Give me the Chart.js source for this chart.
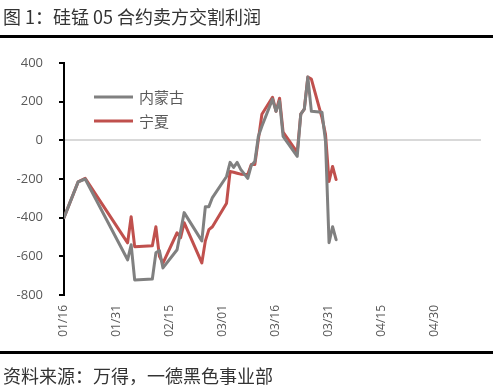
<!DOCTYPE html>
<html>
<head>
<meta charset="utf-8">
<script src="https://cdn.jsdelivr.net/npm/chart.js@4"></script>
<style>
  html, body { margin: 0; padding: 0; background: #fff; }
  #wrap { position: relative; width: 500px; height: 389px; overflow: hidden; }
  #chart { position: absolute; left: 0; top: 0; }
  .txt { position: absolute; left: 3px; font-family: "Noto Sans CJK SC", sans-serif; font-size: 18px; color: #333; white-space: nowrap; line-height: 1; }
  .rule { position: absolute; left: 0; width: 493px; height: 3px; background: #000; }
</style>
</head>
<body>
<div id="wrap">
  <canvas id="chart" width="500" height="389"></canvas>
  <div class="txt" style="top:7px;">图 1：硅锰 05 合约卖方交割利润</div>
  <div class="rule" style="top:35px;"></div>
  <div class="rule" style="top:351px;"></div>
  <div class="txt" style="top:366px;">资料来源：万得，一德黑色事业部</div>
</div>
<script>
// 日期 (2020)
const dates = ['01/16', '01/20', '01/22', '02/03', '02/04', '02/05', '02/10', '02/11', '02/12', '02/13',
    '02/17', '02/18', '02/19', '02/24', '02/25', '02/26', '02/27', '03/02', '03/03', '03/04',
    '03/05', '03/06', '03/08', '03/09', '03/10', '03/11', '03/12', '03/15', '03/16', '03/17',
    '03/18', '03/22', '03/23', '03/24', '03/25', '03/26', '03/29', '03/30', '03/31', '04/01', '04/02'];
const neimenggu = [-400, -215, -200, -618, -540, -722, -717, -582, -570, -660,
    -566, -470, -374, -520, -343, -343, -296, -187, -114, -140,
    -114, -150, -197, -130, -110, 21, 73, 213, 150, 203,
    21, -83, 135, 161, 327, 150, 145, -5, -530, -447, -514];
const ningxia = [-400, -215, -197, -530, -395, -550, -545, -447, -600, -635,
    -478, -504, -426, -634, -520, -462, -447, -325, -161, -165,
    -170, -175, -177, -125, -125, 5, 135, 223, 150, 218,
    42, -62, 135, 161, 327, 317, 117, 31, -213, -135, -203];
const xTickLabels = ['01/16', '01/31', '02/15', '03/01', '03/16', '03/31', '04/15', '04/30'];
const seriesNames = ['内蒙古', '宁夏'];

const startDay = Date.UTC(2020, 0, 16);
function toDay(s) {
    const parts = s.split('/');
    return (Date.UTC(2020, parseInt(parts[0]) - 1, parseInt(parts[1])) - startDay) / 86400000;
}
const days = dates.map(toDay);

function toPoints(values) {
    return values.map((v, i) => ({ x: days[i], y: v }));
}

// 图例画在绘图区内
const insideLegend = {
    id: 'insideLegend',
    afterDraw(chart) {
        const ctx = chart.ctx;
        ctx.save();
        chart.data.datasets.forEach((ds, i) => {
            const y = 97 + i * 24;
            ctx.strokeStyle = ds.borderColor;
            ctx.lineWidth = 3;
            ctx.beginPath();
            ctx.moveTo(94, y);
            ctx.lineTo(133, y);
            ctx.stroke();
            ctx.fillStyle = '#595959';
            ctx.font = '15px "Noto Sans CJK SC"';
            ctx.textBaseline = 'middle';
            ctx.fillText(ds.label, 139, y);
        });
        ctx.restore();
    }
};

const ctx = document.getElementById('chart').getContext('2d');
const myChart = new Chart(ctx, {
    type: 'line',
    data: {
        datasets: [
            {
                label: seriesNames[0],
                data: toPoints(neimenggu),
                borderColor: '#808080',
                borderWidth: 3,
                borderJoinStyle: 'round',
                borderCapStyle: 'round',
                pointRadius: 0,
                tension: 0,
            },
            {
                label: seriesNames[1],
                data: toPoints(ningxia),
                borderColor: '#c0504d',
                borderWidth: 3,
                borderJoinStyle: 'round',
                borderCapStyle: 'round',
                pointRadius: 0,
                tension: 0,
            },
        ],
    },
    plugins: [insideLegend],
    options: {
        responsive: false,
        animation: false,
        layout: { padding: { top: 63, right: 19, bottom: 0, left: 0 } },
        plugins: {
            legend: { display: false },
            tooltip: { enabled: false },
        },
        scales: {
            x: {
                type: 'linear',
                min: 0,
                max: 118,
                grid: { display: false, drawTicks: false },
                border: { display: false },
                afterBuildTicks: function (scale) {
                    scale.ticks = xTickLabels.map((t) => ({ value: toDay(t) }));
                },
                afterFit: function (scale) {
                    scale.height = 94;
                },
                ticks: {
                    minRotation: 90,
                    maxRotation: 90,
                    padding: 10,
                    color: '#595959',
                    font: { family: 'Open Sans', size: 12 },
                    callback: function (value) {
                        const i = xTickLabels.map(toDay).indexOf(value);
                        return i >= 0 ? xTickLabels[i] : '';
                    },
                },
            },
            y: {
                min: -800,
                max: 400,
                border: { color: '#000', width: 2 },
                grid: {
                    color: (c) => (c.tick && c.tick.value === 0 ? '#d9d9d9' : 'rgba(0,0,0,0)'),
                    lineWidth: 2,
                    tickColor: '#000',
                    tickLength: 5,
                },
                afterFit: function (scale) {
                    scale.width = 64;
                },
                ticks: {
                    stepSize: 200,
                    padding: 16,
                    color: '#595959',
                    font: { family: 'Open Sans', size: 13 },
                },
            },
        },
    },
});
</script>
</body>
</html>
